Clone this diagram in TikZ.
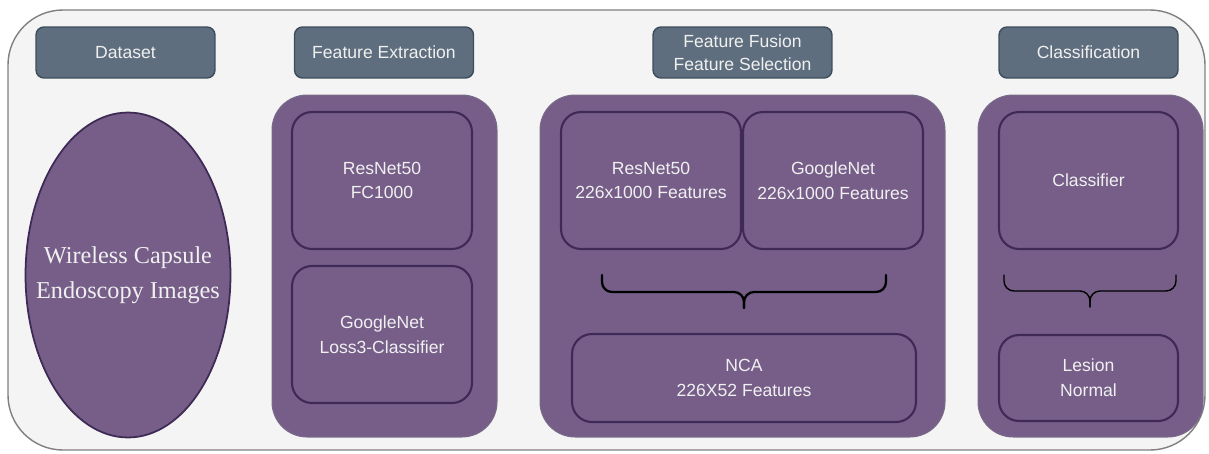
\documentclass[tikz,border=0pt]{standalone}
\usepackage{fontspec}
\setmainfont{Liberation Sans}
\newfontfamily\timesfont{Liberation Serif}
\usepackage{tikz}
\usetikzlibrary{calc}
\usetikzlibrary{positioning}
\usetikzlibrary{shapes.geometric}
\definecolor{framegray}{HTML}{F4F4F4}
\definecolor{slate}{HTML}{5E6E7E}
\definecolor{slateline}{HTML}{3E4D5B}
\definecolor{plum}{HTML}{765E89}
\definecolor{plumline}{HTML}{3E2A55}
\definecolor{paletext}{HTML}{F0F0F0}
\tikzset{head/.style={rectangle,rounded corners=0.16cm,fill=slate,draw=slateline,line width=0.8pt,minimum width=3.58cm,minimum height=1.02cm,text=paletext,align=center,font=\fontsize{10}{13}\selectfont}}
\tikzset{stage/.style={rectangle,rounded corners=0.7cm,fill=plum,draw=plumline!70,line width=0.6pt,minimum width=4.5cm,minimum height=6.84cm}}
\tikzset{inner/.style={rectangle,rounded corners=0.4cm,fill=plum,draw=plumline,line width=1.2pt,minimum width=3.6cm,minimum height=2.74cm,text=paletext,align=center,font=\fontsize{10}{14}\selectfont}}
\tikzset{curly/.style={rounded corners=0.2cm,line width=1.3pt,line cap=round}}

\begin{document}
\begin{tikzpicture}[x=0.02cm,y=-0.02cm]
\useasboundingbox (0,0) rectangle (1209,453);
\draw[fill=framegray,draw=black!50,line width=0.8pt,rounded corners=1.1cm] (8,10) rectangle (1205,450);

% headers
\node[head] (hdata) at (125.5,52.5) {Dataset};
\node[head] (hext) at (384,52.5) {Feature Extraction};
\node[head] (hfus) at (742.5,52.5) {Feature Fusion\\Feature Selection};
\node[head] (hcls) at (1088.5,52.5) {Classification};

% dataset
\node[ellipse,fill=plum,draw=plumline,line width=1pt,minimum width=4.1cm,minimum height=6.5cm,inner sep=0pt] (wce) at (128,275) {};
\node[text=paletext,align=center,font=\timesfont\fontsize{13.8}{20}\selectfont] (wcetext) at (wce.center)
      {Wireless Capsule\\Endoscopy Images};

% stages
\node[stage] (sext) at (384.5,266) {};
\node[stage,minimum width=8.1cm] (sfus) at (742.5,266) {};
\node[stage] (scls) at (1090.5,266) {};

% feature extraction
\node[inner] (resfc) at (382,180.5) {ResNet50\\FC1000};
\node[inner] (gooloss) at (382,334.5) {GoogleNet\\Loss3-Classifier};

% fusion and selection
\node[inner] (resfeat) at (651,180.5) {ResNet50\\226x1000 Features};
\node[inner] (goofeat) at (833,180.5) {GoogleNet\\226x1000 Features};
\node[inner,minimum width=6.88cm,minimum height=1.76cm] (nca) at (744,378) {NCA\\226X52 Features};
\coordinate (bl1) at (602,275);
\coordinate (br1) at (886,275);
\coordinate (tip1) at (744,308);
\draw[curly] (bl1) |- ($(tip1)+(0,-16)$) -- (tip1);
\draw[curly] (br1) |- ($(tip1)+(0,-16)$) -- (tip1);

% classification
\node[inner,minimum width=3.58cm] (clf) at (1088.5,180.5) {Classifier};
\node[inner,minimum width=3.58cm,minimum height=1.72cm] (out) at (1088.5,378) {Lesion\\Normal};
\coordinate (bl2) at (1004,275);
\coordinate (br2) at (1176,275);
\coordinate (tip2) at (1090,307);
\draw[curly,line width=0.8pt] (bl2) |- ($(tip2)+(0,-16)$) -- (tip2);
\draw[curly,line width=0.8pt] (br2) |- ($(tip2)+(0,-16)$) -- (tip2);
\end{tikzpicture}
\end{document}
